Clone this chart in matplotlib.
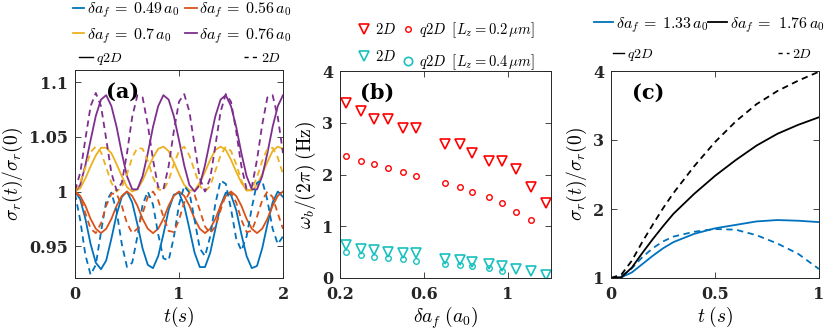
import numpy as np
import matplotlib
matplotlib.use("Agg")
import matplotlib.pyplot as plt
from matplotlib.lines import Line2D

plt.rcParams['mathtext.fontset'] = 'cm'
plt.rcParams['font.family'] = ['DejaVu Serif']

# ---- panel (a): sigma_r(t)/sigma_r(0), sampled every 0.05 s ----
t_a = np.linspace(0, 2, 41)

q2d_049 = [1.000, 0.993, 0.975, 0.952, 0.935, 0.929, 0.937, 0.957, 0.979, 0.995,
           1.000, 0.990, 0.970, 0.948, 0.933, 0.930, 0.941, 0.961, 0.983, 0.997,
           0.999, 0.987, 0.966, 0.944, 0.931, 0.931, 0.944, 0.966, 0.987, 0.999,
           0.997, 0.983, 0.961, 0.941, 0.930, 0.932, 0.948, 0.970, 0.990, 1.000, 0.995]
q2d_056 = [1.000, 0.996, 0.987, 0.975, 0.966, 0.962, 0.966, 0.975, 0.987, 0.996,
           1.000, 0.996, 0.987, 0.975, 0.966, 0.962, 0.966, 0.975, 0.987, 0.996,
           1.000, 0.996, 0.987, 0.975, 0.966, 0.962, 0.966, 0.975, 0.987, 0.996,
           1.000, 0.996, 0.987, 0.975, 0.966, 0.962, 0.966, 0.975, 0.987, 0.996, 1.000]
q2d_070 = [1.000, 1.003, 1.012, 1.023, 1.033, 1.040, 1.040, 1.035, 1.025, 1.014,
           1.004, 1.000, 1.002, 1.010, 1.021, 1.031, 1.039, 1.041, 1.037, 1.027,
           1.016, 1.006, 1.001, 1.001, 1.008, 1.018, 1.029, 1.038, 1.041, 1.038,
           1.029, 1.018, 1.008, 1.001, 1.001, 1.006, 1.016, 1.027, 1.037, 1.041, 1.039]
q2d_076 = [1.000, 1.006, 1.024, 1.047, 1.069, 1.084, 1.088, 1.078, 1.059, 1.035,
           1.014, 1.002, 1.002, 1.014, 1.035, 1.059, 1.078, 1.088, 1.084, 1.069,
           1.047, 1.024, 1.006, 1.000, 1.006, 1.024, 1.047, 1.069, 1.084, 1.088,
           1.078, 1.059, 1.035, 1.014, 1.002, 1.002, 1.014, 1.035, 1.059, 1.078, 1.088]

d2_049 = [0.998, 0.974, 0.942, 0.924, 0.933, 0.963, 0.991, 0.999, 0.982, 0.952,
          0.931, 0.935, 0.959, 0.988, 1.000, 0.988, 0.961, 0.939, 0.937, 0.958,
          0.988, 1.005, 0.999, 0.974, 0.948, 0.941, 0.959, 0.989, 1.010, 1.007,
          0.984, 0.957, 0.946, 0.959, 0.985, 1.008, 1.010, 0.992, 0.966, 0.952, 0.959]
d2_056 = [1.000, 0.995, 0.980, 0.966, 0.962, 0.971, 0.987, 0.998, 0.998, 0.987,
          0.971, 0.962, 0.966, 0.980, 0.995, 1.000, 0.992, 0.977, 0.964, 0.963,
          0.974, 0.990, 0.999, 0.997, 0.983, 0.968, 0.962, 0.968, 0.983, 0.997,
          0.999, 0.990, 0.974, 0.963, 0.964, 0.977, 0.992, 1.000, 0.995, 0.980, 0.966]
d2_070 = [1.000, 1.008, 1.022, 1.036, 1.041, 1.036, 1.022, 1.008, 1.000, 1.004,
          1.016, 1.031, 1.040, 1.039, 1.028, 1.013, 1.002, 1.001, 1.010, 1.025,
          1.037, 1.041, 1.033, 1.019, 1.005, 1.000, 1.005, 1.019, 1.033, 1.041,
          1.037, 1.025, 1.010, 1.001, 1.002, 1.013, 1.028, 1.039, 1.040, 1.031, 1.016]
d2_076 = [1.001, 1.017, 1.048, 1.078, 1.090, 1.078, 1.048, 1.017, 1.001, 1.008,
          1.035, 1.068, 1.088, 1.086, 1.061, 1.029, 1.004, 1.002, 1.023, 1.055,
          1.082, 1.089, 1.073, 1.042, 1.012, 1.000, 1.012, 1.042, 1.073, 1.089,
          1.082, 1.055, 1.023, 1.002, 1.004, 1.029, 1.061, 1.086, 1.088, 1.068, 1.035]

labels_a = [r'$\delta a_f\:=\:0.49\,a_0$', r'$\delta a_f\:=\:0.56\,a_0$',
            r'$\delta a_f\:=\:0.7\,a_0$', r'$\delta a_f\:=\:0.76\,a_0$']
colors_a = ['#0072BD', '#D95319', '#EDB120', '#7E2F8E']

# ---- panel (b): breathing frequency vs delta a_f ----
da = [0.23, 0.30, 0.36, 0.43, 0.50, 0.56, 0.70, 0.77, 0.83, 0.91, 0.97, 1.04, 1.11, 1.18]
w_2d_02 = [3.39, 3.23, 3.07, 3.07, 2.90, 2.90, 2.58, 2.58, 2.41, 2.26, 2.26, 2.10, 1.76, 1.44]
w_q2d_02 = [2.36, 2.27, 2.20, 2.12, 2.04, 1.98, 1.83, 1.75, 1.66, 1.57, 1.44, 1.28, 1.13]
w_2d_04 = [0.64, 0.57, 0.54, 0.51, 0.48, 0.48, 0.36, 0.35, 0.31, 0.28, 0.24, 0.17, 0.14, 0.06]
w_q2d_04 = [0.50, 0.44, 0.41, 0.39, 0.36, 0.33, 0.28, 0.26, 0.23, 0.20, 0.14]

# ---- panel (c): larger quenches ----
t_c = [0, 0.05, 0.1, 0.15, 0.2, 0.25, 0.3, 0.4, 0.5, 0.6, 0.7, 0.8, 0.9, 1.0]
q2d_133 = [1.0, 1.01, 1.08, 1.20, 1.32, 1.43, 1.52, 1.64, 1.72, 1.77, 1.82, 1.84, 1.83, 1.81]
d2_133 = [1.0, 1.03, 1.14, 1.30, 1.43, 1.53, 1.60, 1.67, 1.71, 1.70, 1.62, 1.50, 1.35, 1.13]
q2d_176 = [1.0, 1.01, 1.15, 1.36, 1.56, 1.75, 1.93, 2.22, 2.48, 2.71, 2.92, 3.09, 3.22, 3.33]
d2_176 = [1.0, 1.05, 1.25, 1.52, 1.77, 2.01, 2.23, 2.62, 2.97, 3.27, 3.52, 3.71, 3.86, 3.99]

W, H = 830, 331
fig = plt.figure(figsize=(8.3, 3.31), dpi=100)

CYAN = '#19C0C0'
lw = 1.3
tick_font = dict(family='DejaVu Serif', weight='bold', size=11.5)


def box(x0, x1, y0, y1):
    return [x0 / W, 1 - y1 / H, (x1 - x0) / W, (y1 - y0) / H]


def style(ax, xt, xl, yt, yl):
    ax.set_xticks(xt)
    ax.set_xticklabels(xl, fontdict=tick_font)
    ax.set_yticks(yt)
    ax.set_yticklabels(yl, fontdict=tick_font)
    ax.tick_params(direction='in', length=4, width=0.6, top=True, right=True,
                   colors='#262626')
    ax.tick_params(axis='x', pad=6)
    ax.tick_params(axis='y', pad=5)
    for s in ax.spines.values():
        s.set_linewidth(0.7)
        s.set_color('#262626')


def panel_label(ax, x, s):
    ax.text(x, 0.895, s, transform=ax.transAxes, fontsize=15, fontweight='bold',
            family='DejaVu Serif', va='center', ha='left')


# (a)
ax_a = fig.add_axes(box(75, 283, 70, 278))
for y, c in zip([q2d_049, q2d_056, q2d_070, q2d_076], colors_a):
    ax_a.plot(t_a, y, color=c, lw=lw)
for y, c in zip([d2_049, d2_056, d2_070, d2_076], colors_a):
    ax_a.plot(t_a, y, color=c, lw=lw, ls='--', dashes=(3.5, 2.5))
ax_a.set_xlim(0, 2)
ax_a.set_ylim(0.921, 1.111)
style(ax_a, [0, 1, 2], ['0', '1', '2'], [0.95, 1, 1.05, 1.1], ['0.95', '1', '1.05', '1.1'])
ax_a.set_xlabel(r'$t(s)$', fontsize=14, labelpad=1)
ax_a.set_ylabel(r'$\sigma_r(t)/\sigma_r(0)$', fontsize=14, labelpad=3)
panel_label(ax_a, 0.15, '(a)')

# (b)
ax_b = fig.add_axes(box(340, 551, 71, 278))
ax_b.plot(da, w_2d_02, 'v', color='red', mfc='none', ms=7, mew=1.2)
ax_b.plot(da[:len(w_q2d_02)], w_q2d_02, 'o', color='red', mfc='none', ms=4, mew=1.0)
ax_b.plot(da, w_2d_04, 'v', color=CYAN, mfc='none', ms=7, mew=1.2)
ax_b.plot(da[:len(w_q2d_04)], w_q2d_04, 'o', color=CYAN, mfc='none', ms=4, mew=1.0)
ax_b.set_xlim(0.2, 1.205)
ax_b.set_ylim(0, 4)
style(ax_b, [0.2, 0.6, 1], ['0.2', '0.6', '1'], [0, 1, 2, 3, 4], ['0', '1', '2', '3', '4'])
ax_b.set_xlabel(r'$\delta a_f\;(a_0)$', fontsize=14, labelpad=1)
ax_b.set_ylabel(r'$\omega_b/(2\pi)\;(\mathrm{Hz})$', fontsize=14, labelpad=3)
panel_label(ax_b, 0.095, '(b)')

# (c)
ax_c = fig.add_axes(box(611, 819, 71, 278))
ax_c.plot(t_c, q2d_133, color='#0072BD', lw=lw)
ax_c.plot(t_c, d2_133, color='#0072BD', lw=lw, ls='--', dashes=(3.5, 2.5))
ax_c.plot(t_c, q2d_176, color='black', lw=lw)
ax_c.plot(t_c, d2_176, color='black', lw=lw, ls='--', dashes=(3.5, 2.5))
ax_c.set_xlim(0, 1)
ax_c.set_ylim(1, 4)
style(ax_c, [0, 0.5, 1], ['0', '0.5', '1'], [1, 2, 3, 4], ['1', '2', '3', '4'])
ax_c.set_xlabel(r'$t\;(s)$', fontsize=14, labelpad=1)
ax_c.set_ylabel(r'$\sigma_r(t)/\sigma_r(0)$', fontsize=14, labelpad=3)
panel_label(ax_c, 0.10, '(c)')

# legends
leg_kw = dict(frameon=False, borderpad=0, borderaxespad=0, loc='upper left')
ha = [Line2D([], [], color=c, lw=lw) for c in colors_a]
fig.legend([ha[0], ha[2], ha[1], ha[3]],
           [labels_a[0], labels_a[2], labels_a[1], labels_a[3]],
           ncol=2, fontsize=11.5, handlelength=0.7, handletextpad=0.15,
           columnspacing=0.4, labelspacing=0.35,
           bbox_to_anchor=(73 / W, 1 - 0.5 / H), **leg_kw)
solid_k = Line2D([], [], color='black', lw=1.0)
dash_k = Line2D([], [], color='black', lw=1.0, ls='--', dashes=(3, 3))
fig.legend([solid_k, dash_k], [r'$q2D$', r'$2D$'], ncol=2, fontsize=10,
           handlelength=1.0, handletextpad=0.2, columnspacing=8.8,
           bbox_to_anchor=(79 / W, 1 - 51 / H), **leg_kw)

hb = [Line2D([], [], ls='none', marker='v', color='red', mfc='none', ms=7, mew=1.2),
      Line2D([], [], ls='none', marker='v', color=CYAN, mfc='none', ms=7, mew=1.2),
      Line2D([], [], ls='none', marker='o', color='red', mfc='none', ms=4, mew=1.0),
      Line2D([], [], ls='none', marker='o', color=CYAN, mfc='none', ms=6, mew=1.2)]
fig.legend(hb, [r'$2D$', r'$2D$', r'$q2D\;\;[L_z = 0.2\,\mu m]$', r'$q2D\;\;[L_z = 0.4\,\mu m]$'],
           ncol=2, fontsize=10.5, handlelength=0.9, handletextpad=0.3,
           columnspacing=0.4, labelspacing=0.85,
           bbox_to_anchor=(357 / W, 1 - 20 / H), **leg_kw)

hc = [Line2D([], [], color='#0072BD', lw=lw), Line2D([], [], color='black', lw=lw)]
fig.legend(hc, [r'$\delta a_f\:=\:1.33\,a_0$', r'$\delta a_f\:=\:\,1.76\,a_0$'],
           ncol=2, fontsize=11.5, handlelength=1.2, handletextpad=0.15,
           columnspacing=0.0, bbox_to_anchor=(594 / W, 1 - 15 / H), **leg_kw)
fig.legend([solid_k, dash_k], [r'$q2D$', r'$2D$'], ncol=2, fontsize=10,
           handlelength=0.8, handletextpad=0.2, columnspacing=9.0,
           bbox_to_anchor=(613 / W, 1 - 47 / H), **leg_kw)

fig.savefig('out.png', dpi=100)
